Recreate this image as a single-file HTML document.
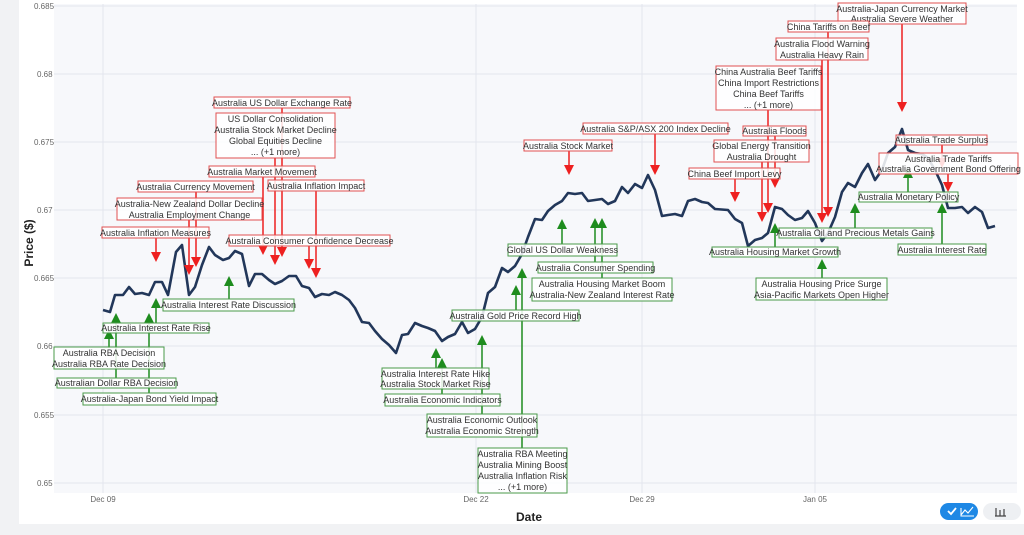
<!DOCTYPE html>
<html><head><meta charset="utf-8"><style>
html,body{margin:0;padding:0;background:#f1f2f4;}
svg{display:block;font-family:"Liberation Sans",sans-serif;}
.rb{fill:#fff;fill-opacity:.85;stroke:#e05050;stroke-width:1}
.gb{fill:#fff;fill-opacity:.85;stroke:#4a9a4a;stroke-width:1}
.t{font-size:9px;fill:#333;text-anchor:middle}
.rl{stroke:#ee2020;stroke-width:1.5}
.gl{stroke:#1e8c1e;stroke-width:1.5}
.ra{fill:#ee2020}
.ga{fill:#1e8c1e}
.tick{font-size:8px;fill:#666}
</style></head><body>
<svg width="1024" height="535" viewBox="0 0 1024 535">
<rect x="19" y="0" width="1005" height="524" fill="#fff"/>
<rect x="54" y="4" width="963" height="489" fill="#f7f8fb"/>
<g stroke="#e3e6ee" stroke-width="1">
<line x1="54" x2="1017" y1="6" y2="6"/><line x1="54" x2="1017" y1="74" y2="74"/>
<line x1="54" x2="1017" y1="142" y2="142"/><line x1="54" x2="1017" y1="210" y2="210"/>
<line x1="54" x2="1017" y1="278" y2="278"/><line x1="54" x2="1017" y1="346" y2="346"/>
<line x1="54" x2="1017" y1="415" y2="415"/><line x1="54" x2="1017" y1="483" y2="483"/>
<line x1="103" x2="103" y1="4" y2="493"/><line x1="476" x2="476" y1="4" y2="493"/>
<line x1="642" x2="642" y1="4" y2="493"/><line x1="815" x2="815" y1="4" y2="493"/>
</g>
<g class="tick">
<text x="34" y="9">0.685</text><text x="37" y="77">0.68</text><text x="34" y="145">0.675</text>
<text x="37" y="213">0.67</text><text x="34" y="281">0.665</text><text x="37" y="349">0.66</text>
<text x="34" y="418">0.655</text><text x="37" y="486">0.65</text>
<text x="103" y="502" text-anchor="middle">Dec 09</text><text x="476" y="502" text-anchor="middle">Dec 22</text>
<text x="642" y="502" text-anchor="middle">Dec 29</text><text x="815" y="502" text-anchor="middle">Jan 05</text>
</g>
<text x="529" y="521" text-anchor="middle" font-size="12" font-weight="bold" fill="#222">Date</text>
<text transform="translate(33,243) rotate(-90)" text-anchor="middle" font-size="12" font-weight="bold" fill="#222">Price ($)</text>

<polyline fill="none" stroke="#22375a" stroke-width="2.6" stroke-linejoin="round" points="103,310 110,312 115,295 123,295 129,287 135,294 142,293 149,295 155,282 162,282 168,295 176,252 182,245 189,295 195,287 202,265 209,247 215,255 223,260 229,258 235,251 242,254 249,286 255,274 262,274 269,280 275,284 282,281 289,276 296,276 302,286 309,288 315,297 322,294 329,295 335,292 342,295 349,300 355,308 362,322 369,323 375,331 382,339 389,345 396,353 402,335 408,334 415,323 422,326 428,328 435,331 442,341 448,337 455,334 462,322 468,333 475,329 482,317 488,293 495,287 502,268 508,272 515,266 522,254 528,237 535,219 542,220 548,211 555,205 562,201 568,193 575,194 582,193 588,201 595,200 602,199 608,204 615,201 622,187 628,193 635,184 642,188 648,175 655,190 662,216 668,215 675,214 682,216 688,201 695,199 702,202 708,203 715,209 728,210 735,219 742,223 748,246 755,240 762,238 768,233 775,207 782,209 788,215 795,220 802,218 808,211 815,223 822,241 828,233 835,217 842,192 848,183 855,187 862,173 868,164 875,180 882,170 888,153 895,147 902,129 908,150 915,153 922,154 928,158 935,170 942,185 948,208 955,208 962,207 968,213 975,207 982,212 988,228 995,226"/>

<g class="rl">
<line x1="282" y1="108" x2="282" y2="247"/><line x1="275" y1="158" x2="275" y2="255"/>
<line x1="263" y1="177" x2="263" y2="245"/><line x1="316" y1="191" x2="316" y2="268"/>
<line x1="196" y1="192" x2="196" y2="257"/><line x1="189" y1="220" x2="189" y2="265"/>
<line x1="156" y1="238" x2="156" y2="252"/><line x1="309" y1="246" x2="309" y2="259"/>
<line x1="569" y1="151" x2="569" y2="165"/><line x1="655" y1="134" x2="655" y2="165"/>
<line x1="902" y1="24" x2="902" y2="102"/><line x1="828" y1="32" x2="828" y2="207"/>
<line x1="822" y1="60" x2="822" y2="213"/><line x1="768" y1="110" x2="768" y2="203"/>
<line x1="775" y1="136" x2="775" y2="178"/><line x1="762" y1="162" x2="762" y2="212"/>
<line x1="735" y1="179" x2="735" y2="192"/><line x1="942" y1="145" x2="942" y2="158"/>
<line x1="948" y1="174" x2="948" y2="182"/>
</g>
<g class="ra">
<polygon points="277,247 287,247 282,257"/><polygon points="270,255 280,255 275,265"/>
<polygon points="258,245 268,245 263,255"/><polygon points="311,268 321,268 316,278"/>
<polygon points="191,257 201,257 196,267"/><polygon points="184,265 194,265 189,275"/>
<polygon points="151,252 161,252 156,262"/><polygon points="304,259 314,259 309,269"/>
<polygon points="564,165 574,165 569,175"/><polygon points="650,165 660,165 655,175"/>
<polygon points="897,102 907,102 902,112"/><polygon points="823,207 833,207 828,217"/>
<polygon points="817,213 827,213 822,223"/><polygon points="763,203 773,203 768,213"/>
<polygon points="770,178 780,178 775,188"/><polygon points="757,212 767,212 762,222"/>
<polygon points="730,192 740,192 735,202"/><polygon points="937,158 947,158 942,168"/>
<polygon points="943,182 953,182 948,192"/>
</g>
<g class="gl">
<line x1="229" y1="286" x2="229" y2="299"/><line x1="156" y1="308" x2="156" y2="323"/>
<line x1="149" y1="323" x2="149" y2="393"/><line x1="109" y1="339" x2="109" y2="348"/>
<line x1="116" y1="323" x2="116" y2="378"/><line x1="436" y1="358" x2="436" y2="368"/>
<line x1="442" y1="368" x2="442" y2="394"/><line x1="482" y1="345" x2="482" y2="414"/>
<line x1="522" y1="278" x2="522" y2="448"/><line x1="516" y1="295" x2="516" y2="310"/>
<line x1="562" y1="229" x2="562" y2="244"/><line x1="595" y1="228" x2="595" y2="262"/>
<line x1="602" y1="228" x2="602" y2="278"/><line x1="855" y1="213" x2="855" y2="228"/>
<line x1="775" y1="233" x2="775" y2="247"/><line x1="822" y1="269" x2="822" y2="278"/>
<line x1="908" y1="178" x2="908" y2="192"/><line x1="942" y1="213" x2="942" y2="244"/>
</g>
<g class="ga">
<polygon points="224,286 234,286 229,276"/><polygon points="151,308 161,308 156,298"/>
<polygon points="144,323 154,323 149,313"/><polygon points="104,339 114,339 109,329"/>
<polygon points="111,323 121,323 116,313"/><polygon points="431,358 441,358 436,348"/>
<polygon points="437,368 447,368 442,358"/><polygon points="477,345 487,345 482,335"/>
<polygon points="517,278 527,278 522,268"/><polygon points="511,295 521,295 516,285"/>
<polygon points="557,229 567,229 562,219"/><polygon points="590,228 600,228 595,218"/>
<polygon points="597,228 607,228 602,218"/><polygon points="850,213 860,213 855,203"/>
<polygon points="770,233 780,233 775,223"/><polygon points="817,269 827,269 822,259"/>
<polygon points="903,178 913,178 908,168"/><polygon points="937,213 947,213 942,203"/>
</g>

<rect class="rb" x="214" y="97" width="136" height="11"/><text class="t" x="282" y="106">Australia US Dollar Exchange Rate</text>
<rect class="rb" x="216" y="113" width="119" height="45"/><text class="t" x="275.5" y="122">US Dollar Consolidation</text><text class="t" x="275.5" y="133">Australia Stock Market Decline</text><text class="t" x="275.5" y="144">Global Equities Decline</text><text class="t" x="275.5" y="155">... (+1 more)</text>
<rect class="rb" x="209" y="166" width="106" height="11"/><text class="t" x="262" y="175">Australia Market Movement</text>
<rect class="rb" x="268" y="180" width="96" height="11"/><text class="t" x="316" y="189">Australia Inflation Impact</text>
<rect class="rb" x="138" y="181" width="115" height="11"/><text class="t" x="195.5" y="190">Australia Currency Movement</text>
<rect class="rb" x="117" y="198" width="145" height="22"/><text class="t" x="189.5" y="207">Australia-New Zealand Dollar Decline</text><text class="t" x="189.5" y="218">Australia Employment Change</text>
<rect class="rb" x="102" y="227" width="107" height="11"/><text class="t" x="155.5" y="236">Australia Inflation Measures</text>
<rect class="rb" x="229" y="235" width="161" height="11"/><text class="t" x="309.5" y="244">Australia Consumer Confidence Decrease</text>
<rect class="rb" x="524" y="140" width="88" height="11"/><text class="t" x="568" y="149">Australia Stock Market</text>
<rect class="rb" x="583" y="123" width="145" height="11"/><text class="t" x="655.5" y="132">Australia S&amp;P/ASX 200 Index Decline</text>
<rect class="rb" x="838" y="3" width="128" height="21"/><text class="t" x="902" y="12">Australia-Japan Currency Market</text><text class="t" x="902" y="22">Australia Severe Weather</text>
<rect class="rb" x="788" y="21" width="81" height="11"/><text class="t" x="828.5" y="30">China Tariffs on Beef</text>
<rect class="rb" x="776" y="38" width="92" height="22"/><text class="t" x="822" y="47">Australia Flood Warning</text><text class="t" x="822" y="58">Australia Heavy Rain</text>
<rect class="rb" x="716" y="66" width="105" height="44"/><text class="t" x="768.5" y="75">China Australia Beef Tariffs</text><text class="t" x="768.5" y="86">China Import Restrictions</text><text class="t" x="768.5" y="97">China Beef Tariffs</text><text class="t" x="768.5" y="108">... (+1 more)</text>
<rect class="rb" x="743" y="126" width="63" height="10"/><text class="t" x="774.5" y="134">Australia Floods</text>
<rect class="rb" x="714" y="140" width="95" height="22"/><text class="t" x="761.5" y="149">Global Energy Transition</text><text class="t" x="761.5" y="160">Australia Drought</text>
<rect class="rb" x="689" y="168" width="91" height="11"/><text class="t" x="734.5" y="177">China Beef Import Levy</text>
<rect class="rb" x="896" y="135" width="91" height="10"/><text class="t" x="941.5" y="143">Australia Trade Surplus</text>
<rect class="rb" x="879" y="153" width="139" height="21"/><text class="t" x="948.5" y="162">Australia Trade Tariffs</text><text class="t" x="948.5" y="172">Australia Government Bond Offering</text>

<rect class="gb" x="163" y="299" width="131" height="12"/><text class="t" x="228.5" y="308">Australia Interest Rate Discussion</text>
<rect class="gb" x="103" y="323" width="106" height="10"/><text class="t" x="156" y="331">Australia Interest Rate Rise</text>
<rect class="gb" x="54" y="347" width="110" height="22"/><text class="t" x="109" y="356">Australia RBA Decision</text><text class="t" x="109" y="367">Australia RBA Rate Decision</text>
<rect class="gb" x="57" y="378" width="119" height="10"/><text class="t" x="116.5" y="386">Australian Dollar RBA Decision</text>
<rect class="gb" x="83" y="393" width="133" height="12"/><text class="t" x="149.5" y="402">Australia-Japan Bond Yield Impact</text>
<rect class="gb" x="382" y="368" width="107" height="21"/><text class="t" x="435.5" y="377">Australia Interest Rate Hike</text><text class="t" x="435.5" y="387">Australia Stock Market Rise</text>
<rect class="gb" x="385" y="394" width="115" height="12"/><text class="t" x="442.5" y="403">Australia Economic Indicators</text>
<rect class="gb" x="427" y="414" width="110" height="23"/><text class="t" x="482" y="423">Australia Economic Outlook</text><text class="t" x="482" y="434">Australia Economic Strength</text>
<rect class="gb" x="478" y="448" width="89" height="45"/><text class="t" x="522.5" y="457">Australia RBA Meeting</text><text class="t" x="522.5" y="468">Australia Mining Boost</text><text class="t" x="522.5" y="479">Australia Inflation Risk</text><text class="t" x="522.5" y="490">... (+1 more)</text>
<rect class="gb" x="452" y="310" width="127" height="11"/><text class="t" x="515.5" y="319">Australia Gold Price Record High</text>
<rect class="gb" x="508" y="244" width="109" height="12"/><text class="t" x="562.5" y="253">Global US Dollar Weakness</text>
<rect class="gb" x="538" y="262" width="115" height="11"/><text class="t" x="595.5" y="271">Australia Consumer Spending</text>
<rect class="gb" x="532" y="278" width="140" height="23"/><text class="t" x="602" y="287">Australia Housing Market Boom</text><text class="t" x="602" y="298">Australia-New Zealand Interest Rate</text>
<rect class="gb" x="779" y="228" width="153" height="10"/><text class="t" x="855.5" y="236">Australia Oil and Precious Metals Gains</text>
<rect class="gb" x="712" y="247" width="126" height="10"/><text class="t" x="775" y="255">Australia Housing Market Growth</text>
<rect class="gb" x="756" y="278" width="131" height="22"/><text class="t" x="821.5" y="287">Australia Housing Price Surge</text><text class="t" x="821.5" y="298">Asia-Pacific Markets Open Higher</text>
<rect class="gb" x="859" y="192" width="99" height="10"/><text class="t" x="908.5" y="200">Australia Monetary Policy</text>
<rect class="gb" x="898" y="244" width="88" height="11"/><text class="t" x="942" y="253">Australia Interest Rate</text>

<rect x="940" y="503" width="38" height="17" rx="8.5" fill="#1e88e5"/>
<path d="M948 511 l3 3 l5 -6" stroke="#fff" stroke-width="1.8" fill="none"/>
<path d="M961 515 l4 -5 l3 3 l5 -6 M961 508 v8 h13" stroke="#fff" stroke-width="1.1" fill="none"/>
<rect x="983" y="503" width="38" height="17" rx="8.5" fill="#eef0f3"/>
<path d="M996 508 v8 M1000 510 v6 M1004 509 v7 M995 516 h11" stroke="#444" stroke-width="1.2" fill="none"/>
</svg>
</body></html>
